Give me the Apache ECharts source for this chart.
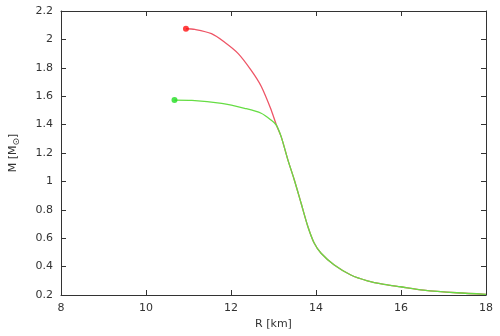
<!DOCTYPE html>
<html><head><meta charset="utf-8">
<script src="https://cdn.jsdelivr.net/npm/echarts@6/dist/echarts.min.js"></script>
<style>html,body{margin:0;padding:0;background:#fff}#c{width:500px;height:336px}</style>
</head><body><div id="c"></div>
<script>
// Red branch (before merging)
const redHead = [[10.94,2.075],[11.15,2.07],[11.54,2.04],[11.85,1.98],[12.17,1.90],[12.48,1.78],[12.71,1.67],[12.95,1.50],[13.07,1.395]];
// Green branch (before merging)
const greenHead = [[10.67,1.573],[11.08,1.571],[11.78,1.55],[12.32,1.515],[12.71,1.48],[12.95,1.43],[13.07,1.395]];
// Shared tail
const tail = [[13.18,1.315],[13.34,1.15],[13.49,1.01],[13.65,0.846],[13.81,0.681],[13.96,0.564],[14.12,0.494],[14.43,0.411],[14.82,0.341],[15.21,0.30],[15.60,0.275],[15.99,0.258],[16.53,0.235],[17.31,0.216],[18.0,0.205]];
const redStart = [10.94,2.075];
const greenStart = [10.67,1.573];
const xTicks = [8,10,12,14,16,18];
const yTicks = [0.2,0.4,0.6,0.8,1,1.2,1.4,1.6,1.8,2,2.2];

const chart = echarts.init(document.getElementById('c'), null, {renderer:'canvas'});
const axCol = '#333';
const font = 'DejaVu Sans';
const baseX = {type:'value', min:8, max:18, interval:2,
  axisLine:{show:true,onZero:false,lineStyle:{color:axCol,width:1}},
  axisTick:{show:true,inside:true,length:5,lineStyle:{color:axCol}},
  splitLine:{show:false}};
const baseY = {type:'value', min:0.2, max:2.2, interval:0.2,
  axisLine:{show:true,onZero:false,lineStyle:{color:axCol,width:1}},
  axisTick:{show:true,inside:true,length:5,lineStyle:{color:axCol}},
  splitLine:{show:false}};
chart.setOption({
  animation:false,
  backgroundColor:'#fff',
  grid:{left:59,right:14,top:11,bottom:41,containLabel:false},
  xAxis:[
    Object.assign({}, baseX, {position:'bottom',
      name:'R [km]', nameLocation:'middle', nameGap:23,
      nameTextStyle:{color:axCol,fontFamily:font,fontSize:11},
      axisLabel:{color:axCol,fontFamily:font,fontSize:11,margin:8,
        formatter:v=>xTicks.includes(v)?String(v):''}}),
    Object.assign({}, baseX, {position:'top', axisLabel:{show:false}})
  ],
  yAxis:[
    Object.assign({}, baseY, {position:'left',
      name:'{a|M [M}{b|⊙}{a|]}', nameLocation:'middle', nameGap:40, nameRotate:90,
      nameTextStyle:{rich:{a:{color:axCol,fontFamily:font,fontSize:11},b:{color:axCol,fontFamily:font,fontSize:9,padding:[6,0,0,0]}}},
      axisLabel:{color:axCol,fontFamily:font,fontSize:11,margin:8,
        formatter:v=>{const r=Math.round(v*10)/10; return yTicks.includes(r)?String(r):'';}}}),
    Object.assign({}, baseY, {position:'right', axisLabel:{show:false}})
  ],
  series:[
    {type:'line', data:redHead.concat(tail), smooth:0.3, showSymbol:false,
      lineStyle:{color:'#ee5566',width:1.3}, z:2},
    {type:'line', data:greenHead.concat(tail), smooth:0.3, showSymbol:false,
      lineStyle:{color:'#66dd44',width:1.3}, z:3},
    {type:'scatter', data:[redStart], symbolSize:6, itemStyle:{color:'#ff1111'}, z:4},
    {type:'scatter', data:[greenStart], symbolSize:6, itemStyle:{color:'#22dd22'}, z:4}
  ]
});
</script></body></html>
